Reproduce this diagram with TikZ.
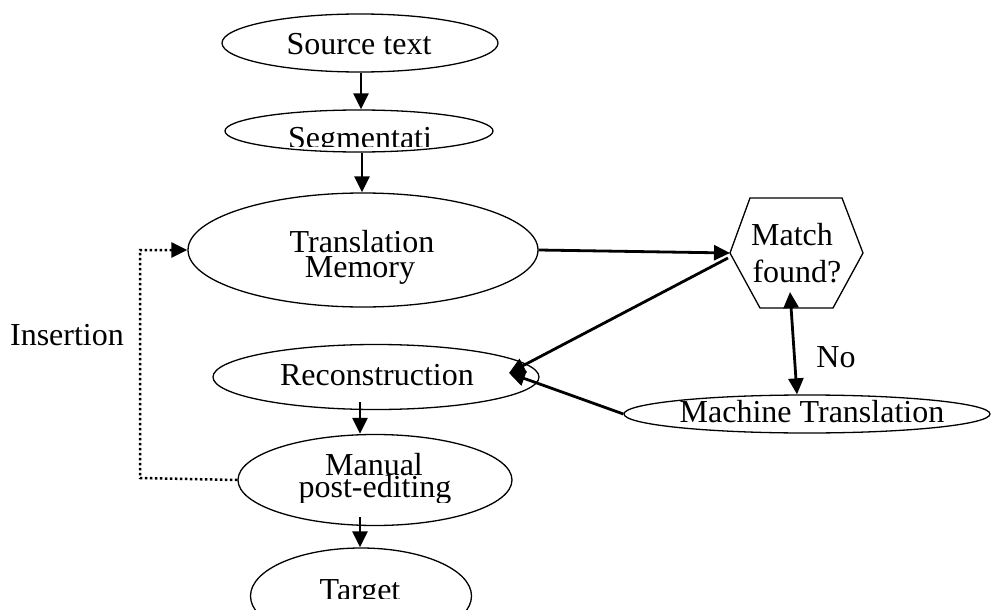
\documentclass[tikz,border=0pt]{standalone}
\usepackage{fontspec}
\setmainfont{Liberation Serif}
\usetikzlibrary{shapes.geometric,arrows.meta}
\begin{document}
\begin{tikzpicture}[x=1pt,y=-1pt,
  ell/.style={draw,ellipse,line width=1.3pt,inner sep=0pt},
  lbl/.style={anchor=base,inner sep=0pt,font=\fontsize{32}{32}\selectfont},
  flow/.style={line width=2.8pt,-{Triangle[length=16pt,width=15pt]}},
  insflow/.style={line width=2.5pt,dash pattern=on 2.5pt off 2.5pt,-{Triangle[length=16pt,width=15pt]}},
]
\useasboundingbox (0,0) rectangle (991,610);
% ellipses
\node[ell,minimum width=276pt,minimum height=58pt] (src) at (360,43) {};
\node[ell,minimum width=268pt,minimum height=42pt] (seg) at (359,131) {};
\node[ell,minimum width=350pt,minimum height=114pt] (tm) at (363,250) {};
\node[ell,minimum width=326pt,minimum height=65pt] (recon) at (376,377) {};
\node[ell,minimum width=366pt,minimum height=38pt] (mt) at (807,414) {};
\node[ell,minimum width=274pt,minimum height=91pt] (man) at (375,480) {};
\node[ell,minimum width=221pt,minimum height=96pt] (tgt) at (361,596) {};
% hexagon
\node[inner sep=0pt,minimum width=133pt,minimum height=110pt] (mf) at (796,253) {};
\coordinate (hl) at (730,253);
\coordinate (hr) at (863,253);
\draw[line width=1.3pt] (hl) -- (750,198) -- (842,198) -- (hr) -- (833,308) -- (760,308) -- cycle;
% texts
\node[lbl] (srcT) at (359,55) {Source text};
\begin{scope}
  \clip (200,100) rectangle (520,146.5);
  \node[lbl] (segT) at (360,148) {Segmentati};
\end{scope}
\node[lbl] (tmT1) at (362,252) {Translation};
\node[lbl] (tmT2) at (360,277) {Memory};
\node[lbl] (mfT1) at (792,245) {Match};
\node[lbl] (mfT2) at (797,282) {found?};
\node[lbl] (reconT) at (377,385) {Reconstruction};
\node[lbl] (mtT) at (812,422) {Machine Translation};
\begin{scope}
  \clip (200,440) rectangle (520,502);
  \node[lbl] (manT1) at (374,475) {Manual};
  \node[lbl] (manT2) at (375,497) {post-editing};
\end{scope}
\begin{scope}
  \clip (200,560) rectangle (520,598);
  \node[lbl] (tgtT) at (360,600) {Target};
\end{scope}
\node[lbl] (insT) at (67,345) {Insertion};
\node[lbl] (noT) at (836,367) {No};
% connectors
\draw[flow] (src.south -| 361,0) -- (seg.north -| 361,0);
\draw[flow] (seg.south -| 362,0) -- (tm.north -| 362,0);
\draw[flow] (tm.east) -- (hl);
\coordinate (mfa) at (728,258);
\coordinate (rtip) at (509,373);
\draw[flow] (mfa) -- (rtip);
\draw[flow] (mt.west) -- (rtip);
\coordinate (mfb) at (790,292);
\draw[line width=2.8pt,{Triangle[length=16pt,width=15pt]}-{Triangle[length=16pt,width=15pt]}] (mfb) -- (mt.north -| 797,0);
\draw[flow] (360,402) -- (man.north -| 360,0);
\draw[flow] (360,517) -- (tgt.north -| 360,0);
\coordinate (ins) at (140,478);
\draw[insflow] (man.west) -- (ins) |- (tm.west);
\end{tikzpicture}
\end{document}
